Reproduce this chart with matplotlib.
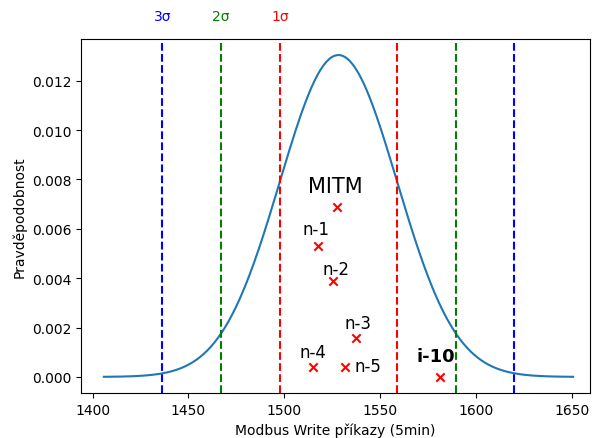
import numpy as np
import matplotlib
matplotlib.use('Agg')
import matplotlib.pyplot as plt

# normal model of the training window
mean = 1528.3
sigma = 30.6

# tested scenarios
names = ['MITM', 'n-1', 'n-2', 'n-3', 'n-4', 'n-5', 'i-10']
counts = [1527.4, 1517.8, 1525.7, 1537.5, 1514.9, 1531.8, 1581.3]
probs = [0.0069, 0.0053, 0.0039, 0.00156, 0.00042, 0.00042, 0.0]

# label placement (x, y, size, weight, ha)
label_pos = [
    (1526.5, 0.00773, 15, 'normal', 'center'),
    (1516.6, 0.0060, 12, 'normal', 'center'),
    (1526.9, 0.00439, 12, 'normal', 'center'),
    (1538.4, 0.00218, 12, 'normal', 'center'),
    (1514.9, 0.0010, 12, 'normal', 'center'),
    (1536.4, 0.00046, 12, 'normal', 'left'),
    (1579.0, 0.00086, 13, 'bold', 'center'),
]

sigma_colors = {1: 'red', 2: 'green', 3: 'blue'}


def pdf(x, mu, s):
    return np.exp(-0.5 * ((x - mu) / s) ** 2) / (s * np.sqrt(2 * np.pi))


fig = plt.figure(figsize=(5.93, 4.39), dpi=100)
ax = fig.add_axes([81 / 593, 45 / 439, 509 / 593, 354 / 439])

x = np.linspace(mean - 4 * sigma, mean + 4 * sigma, 400)
ax.plot(x, pdf(x, mean, sigma))

for k in (1, 2, 3):
    c = sigma_colors[k]
    ax.axvline(mean - k * sigma, color=c, linestyle='--')
    ax.axvline(mean + k * sigma, color=c, linestyle='--')
    ax.text(mean - k * sigma, 1.065, f'{k}σ', color=c, ha='center', va='center',
            transform=ax.get_xaxis_transform())

ax.scatter(counts, probs, marker='x', color='red', zorder=3)
for name, (tx, ty, size, weight, ha) in zip(names, label_pos):
    ax.text(tx, ty, name, fontsize=size, fontweight=weight, ha=ha, va='center')

ax.set_xlim(1394, 1659.5)
ax.set_xlabel('Modbus Write příkazy (5min)')
ax.set_ylabel('Pravděpodobnost')

fig.savefig('out.png', dpi=100)
